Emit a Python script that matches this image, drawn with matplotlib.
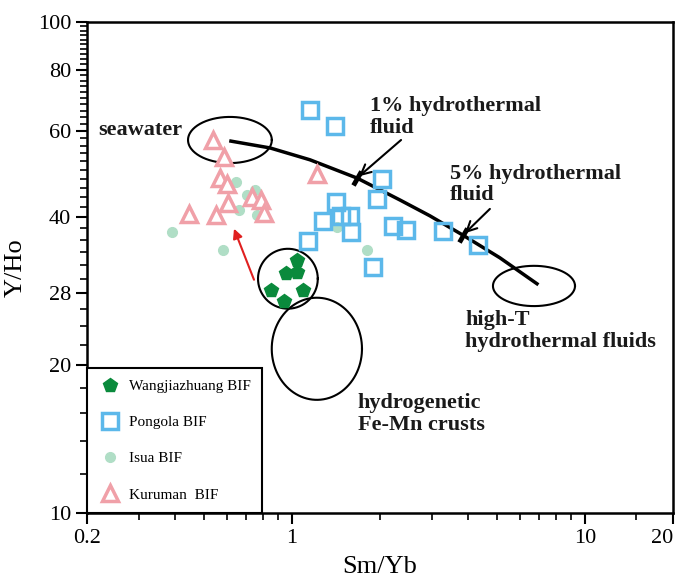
import numpy as np
import matplotlib
matplotlib.use("Agg")
import matplotlib.pyplot as plt
from matplotlib.markers import MarkerStyle
from matplotlib.transforms import Affine2D
from matplotlib.ticker import FixedLocator, NullFormatter

plt.rcParams['font.family'] = ['Liberation Serif', 'DejaVu Serif']

# Data (Sm/Yb vs Y/Ho)
wang_x = [1.042, 0.955, 1.042, 0.849, 1.092, 0.941]
wang_y = [32.7, 30.8, 31.0, 28.5, 28.5, 27.0]

pong_x = [1.154, 1.404, 2.03, 1.953, 1.415, 1.278, 1.472, 1.58, 1.592, 1.136,
          2.216, 2.454, 3.282, 4.32, 1.893]
pong_y = [66.2, 61.4, 47.9, 43.6, 43.0, 39.3, 40.3, 40.3, 37.4, 35.8,
          38.4, 37.7, 37.5, 35.1, 31.7]

isua_x = [0.645, 0.703, 0.749, 0.661, 0.761, 0.390, 0.582, 1.427, 1.806]
isua_y = [47.2, 44.4, 45.5, 41.4, 40.4, 37.3, 34.3, 38.2, 34.3]

kur_x = [0.538, 0.587, 0.569, 0.601, 0.606, 0.446, 0.551, 0.731, 0.785, 0.804, 1.219]
kur_y = [57.5, 53.1, 48.1, 46.8, 42.8, 40.6, 40.4, 44.0, 43.4, 40.8, 49.0]

# seawater - hydrothermal fluid mixing curve
mix_x = [0.620, 0.843, 1.154, 1.67, 2.34, 2.96, 3.84, 5.13, 6.87]
mix_y = [57.2, 55.4, 52.4, 48.1, 43.4, 40.3, 36.8, 33.1, 29.3]
mix_pct_x = [1.67, 3.84]   # 1% and 5% hydrothermal fluid
mix_pct_y = [48.1, 36.8]

# field ellipses: centre (x, y), half widths in log10 units
fields = {
    'seawater': (0.615, 57.5, 0.143, 0.047),
    'wang': (0.970, 30.0, 0.102, 0.061),
    'hydrogenetic': (1.218, 21.6, 0.154, 0.104),
    'highT': (6.71, 29.0, 0.140, 0.041),
}

fig = plt.figure(figsize=(6.77, 5.79), dpi=100)
ax = fig.add_axes([0.1285, 0.114, 0.8655, 0.848])
ax.set_xscale('log')
ax.set_yscale('log')
ax.set_xlim(0.2, 20)
ax.set_ylim(10, 100)

# ellipses
t = np.linspace(0, 2 * np.pi, 200)
for key, (cx, cy, a, b) in fields.items():
    ex = 10 ** (np.log10(cx) + a * np.cos(t))
    ey = 10 ** (np.log10(cy) + b * np.sin(t))
    ax.plot(ex, ey, color='black', lw=1.5, zorder=2)

# mixing curve
ax.plot(mix_x, mix_y, color='black', lw=2.5, zorder=3)
for px, py in zip(mix_pct_x, mix_pct_y):
    m = MarkerStyle('|', transform=Affine2D().rotate_deg(-28))
    ax.plot(px, py, marker=m, color='black', ms=12, mew=3.5, zorder=4)

# data
ax.plot(wang_x, wang_y, ls='none', marker='p', ms=10, color='#0a8a3c', mec='#0a8a3c',
        label='Wangjiazhuang BIF', zorder=5)
ax.plot(pong_x, pong_y, ls='none', marker='s', ms=11, mfc='none', mec='#5cb8ea', mew=2.5,
        label='Pongola BIF', zorder=5)
ax.plot(isua_x, isua_y, ls='none', marker='o', ms=7, color='#b0dec6', mec='#b0dec6',
        label='Isua BIF', zorder=4)
ax.plot(kur_x, kur_y, ls='none', marker='^', ms=11, mfc='white', mec='#f0a0a8', mew=2.5,
        label='Kuruman  BIF', zorder=5)

# labels
tfont = dict(fontsize=16, fontweight='bold', color='#1a1a1a', linespacing=1.1)
ax.text(0.218, 60.3, 'seawater', va='center', ha='left', **tfont)
ax.text(1.85, 64.0, '1% hydrothermal\nfluid', va='center', ha='left', **tfont)
ax.text(3.47, 46.7, '5% hydrothermal\nfluid', va='center', ha='left', **tfont)
ax.text(3.90, 23.5, 'high-T\nhydrothermal fluids', va='center', ha='left', **tfont)
ax.text(1.68, 15.9, 'hydrogenetic\nFe-Mn crusts', va='center', ha='left', **tfont)

# arrows
ax.annotate('', xy=(1.67, 48.1), xytext=(2.40, 58.0),
            arrowprops=dict(arrowstyle='->', color='black', lw=1.5, mutation_scale=18))
ax.annotate('', xy=(3.84, 36.8), xytext=(4.82, 42.0),
            arrowprops=dict(arrowstyle='->', color='black', lw=1.5, mutation_scale=18))
ax.annotate('', xy=(0.630, 38.4), xytext=(0.749, 29.5),
            arrowprops=dict(arrowstyle='-|>', color='#e02020', lw=1.5, mutation_scale=14))

# axes
ax.xaxis.set_major_locator(FixedLocator([0.2, 1, 10, 20]))
ax.set_xticklabels(['0.2', '1', '10', '20'])
ax.get_xticklabels()[-1].set_horizontalalignment('right')
ax.xaxis.set_minor_locator(FixedLocator([0.3, 0.4, 0.5, 0.6, 0.7, 0.8, 0.9,
                                         2, 3, 4, 5, 6, 7, 8, 9, 15]))
ax.xaxis.set_minor_formatter(NullFormatter())
ax.yaxis.set_major_locator(FixedLocator([10, 20, 28, 40, 60, 80, 100]))
ax.set_yticklabels(['10', '20', '28', '40', '60', '80', '100'])
ax.yaxis.set_minor_locator(FixedLocator([v for v in range(12, 100, 2)
                                         if v not in (20, 28, 40, 60, 80)]))
ax.yaxis.set_minor_formatter(NullFormatter())
ax.tick_params(which='major', direction='out', length=8, width=1.5, labelsize=16)
ax.tick_params(which='minor', direction='out', length=5, width=1.2)
for s in ax.spines.values():
    s.set_linewidth(1.8)

ax.set_xlabel('Sm/Yb', fontsize=19, labelpad=6)
ax.set_ylabel('Y/Ho', fontsize=19, labelpad=8)

leg = ax.legend(loc='lower left', bbox_to_anchor=(0, 0), borderaxespad=0, numpoints=1,
                fontsize=11, frameon=True, fancybox=False, framealpha=1,
                edgecolor='black', labelspacing=1.47, borderpad=0.75,
                handlelength=1.5, handletextpad=0.5)
leg.get_frame().set_linewidth(1.5)

fig.savefig('out.png', dpi=100)
